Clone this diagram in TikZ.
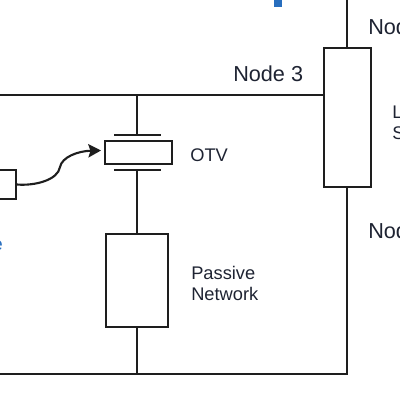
\documentclass[tikz,border=0pt]{standalone}
\usepackage{fontspec}
\setmainfont{Liberation Sans}
\definecolor{otvink}{RGB}{30,30,30}
\definecolor{otvtext}{RGB}{30,35,50}
\definecolor{otvblue}{RGB}{40,110,190}
\usetikzlibrary{arrows.meta,positioning}

\begin{document}
\begin{tikzpicture}[x=0.25mm, y=-0.25mm,
    block/.style={rectangle, draw=otvink, line width=1.5pt, fill=white, inner sep=0pt},
    wire/.style={draw=otvink, line width=1.5pt},
    plate/.style={rectangle, fill=otvink, minimum width=1.175cm, minimum height=1.5pt, inner sep=0pt},
    label/.style={font=\fontsize{13}{15}\selectfont, text=otvtext, inner sep=0pt, align=left},
    biglabel/.style={font=\fontsize{15.4}{18}\selectfont, text=otvtext, inner sep=0pt},
    arrow/.style={wire, -{Stealth[length=9pt, width=9.5pt, inset=1.5pt]}}
  ]
    \useasboundingbox (0,0) rectangle (400,400);
    % Wire ends and corners
    \coordinate (topend) at (347,0);
    \coordinate (leftup) at (0,95);
    \coordinate (leftdown) at (0,374);
    \coordinate (corner) at (347,374);
    \coordinate (node3) at (137,95);
    \coordinate (ground) at (137,374);
    \coordinate (tap) at (324,95);
    \coordinate (otvin) at (101,150.5);
    % Boxes
    \node[block, minimum width=1.175cm, minimum height=3.475cm] (load) at (347.5,117.5) {};
    \node[block, minimum width=1.675cm, minimum height=0.575cm] (otv) at (138.5,152.5) {};
    \node[block, minimum width=1.55cm, minimum height=2.325cm] (passive) at (137,280.5) {};
    \node[block, minimum width=1cm, minimum height=0.725cm, anchor=east] (gate) at (17,184.5) {};
    % Plates of the OTV
    \node[plate] (platetop) at (137.5,135) {};
    \node[plate] (platebot) at (137.5,170) {};
    % Wires
    \draw[wire] (leftup) -- (tap);
    \draw[wire] (topend) -- (load.north -| topend);
    \draw[wire] (load.south -| corner) -- (corner) -- (leftdown);
    \draw[wire] (node3) -- (platetop.north -| node3);
    \draw[wire] (platebot.south -| node3) -- (passive.north);
    \draw[wire] (passive.south) -- (ground);
    % Control arrow
    \draw[arrow] (gate.east) .. controls (35,186) and (58,180) .. (60,167)
      .. controls (62,157) and (78,151) .. (otvin);
    % Labels
    \node[biglabel, anchor=base west] (lblnode3) at (233,81) {Node 3};
    \node[label, anchor=base west] (lblotv) at (190,161) {OTV};
    \node[label, anchor=base west] (lblpassive) at (191,279) {Passive};
    \node[label, anchor=base west] (lblnetwork) at (191,300.5) {Network};
    \node[biglabel, anchor=base west] (lblnodetop) at (368,34) {Node};
    \node[biglabel, anchor=base west] (lblnodebot) at (368,238) {Node};
    \node[label, anchor=base west] (lbll) at (392,118) {L};
    \node[label, anchor=base west] (lbls) at (392,139) {S};
    \node[label, anchor=base east, text=otvblue] (lble) at (3,250) {e};
    \node[rectangle, fill=otvblue, minimum width=0.2cm, minimum height=0.3cm, inner sep=0pt, anchor=south] (titlemark) at (277.5,7) {};
\end{tikzpicture}
\end{document}
